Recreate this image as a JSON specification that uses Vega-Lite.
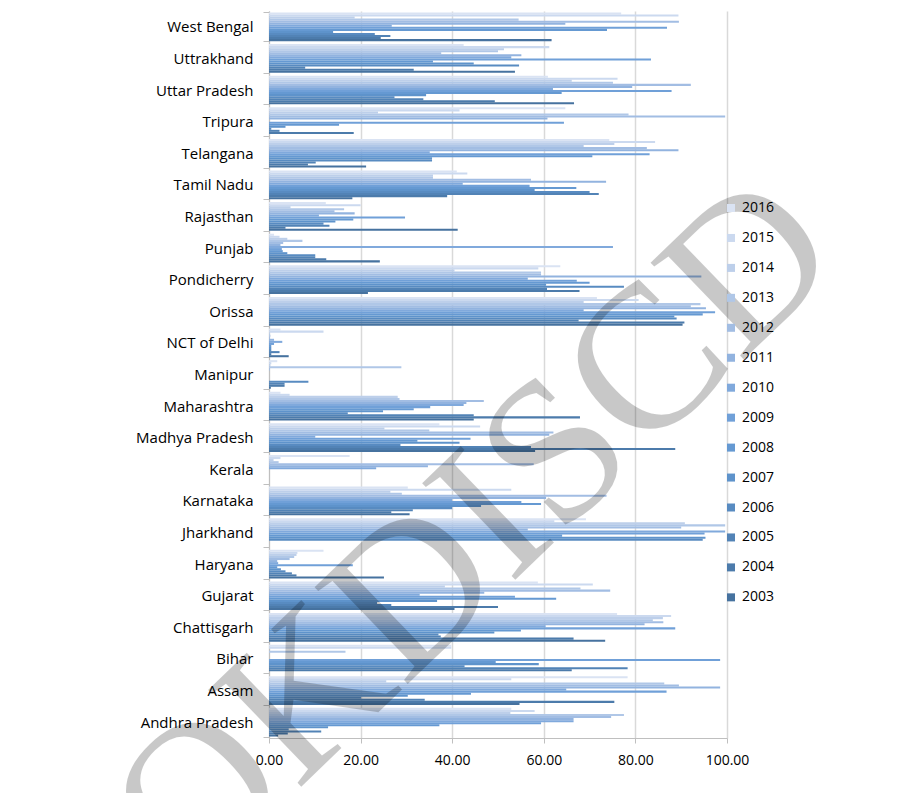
{
  "$schema": "https://vega.github.io/schema/vega-lite/v6.json",
  "autosize": {"type": "none"},
  "padding": {"left": 269, "top": 11, "right": 182, "bottom": 55},
  "width": 458,
  "height": 727,
  "background": "#ffffff",
  "config": {"font": "Open Sans", "view": {"stroke": null}},
  "datasets": {
    "wm": [{"label": "OKDISCD", "state": "Jharkhand", "value": 45}],
    "rows": [
{"state":"West Bengal","year":"2016","value":76.9},{"state":"West Bengal","year":"2015","value":89.4},{"state":"West Bengal","year":"2014","value":18.7},{"state":"West Bengal","year":"2013","value":54.5},{"state":"West Bengal","year":"2012","value":89.5},{"state":"West Bengal","year":"2011","value":64.7},{"state":"West Bengal","year":"2010","value":26.8},{"state":"West Bengal","year":"2009","value":86.9},{"state":"West Bengal","year":"2008","value":73.8},{"state":"West Bengal","year":"2007","value":14.0},{"state":"West Bengal","year":"2006","value":23.1},{"state":"West Bengal","year":"2005","value":26.5},{"state":"West Bengal","year":"2004","value":24.4},{"state":"West Bengal","year":"2003","value":61.7},
{"state":"Uttrakhand","year":"2016","value":42.5},{"state":"Uttrakhand","year":"2015","value":61.2},{"state":"Uttrakhand","year":"2014","value":51.3},{"state":"Uttrakhand","year":"2013","value":50.0},{"state":"Uttrakhand","year":"2012","value":37.6},{"state":"Uttrakhand","year":"2011","value":55.1},{"state":"Uttrakhand","year":"2010","value":52.9},{"state":"Uttrakhand","year":"2009","value":83.4},{"state":"Uttrakhand","year":"2008","value":35.8},{"state":"Uttrakhand","year":"2007","value":44.7},{"state":"Uttrakhand","year":"2006","value":54.6},{"state":"Uttrakhand","year":"2005","value":7.9},{"state":"Uttrakhand","year":"2004","value":31.6},{"state":"Uttrakhand","year":"2003","value":53.7},
{"state":"Uttar Pradesh","year":"2016","value":60.9},{"state":"Uttar Pradesh","year":"2015","value":76.1},{"state":"Uttar Pradesh","year":"2014","value":66.1},{"state":"Uttar Pradesh","year":"2013","value":75.1},{"state":"Uttar Pradesh","year":"2012","value":92.1},{"state":"Uttar Pradesh","year":"2011","value":79.3},{"state":"Uttar Pradesh","year":"2010","value":62.0},{"state":"Uttar Pradesh","year":"2009","value":87.9},{"state":"Uttar Pradesh","year":"2008","value":63.9},{"state":"Uttar Pradesh","year":"2007","value":34.3},{"state":"Uttar Pradesh","year":"2006","value":27.4},{"state":"Uttar Pradesh","year":"2005","value":33.7},{"state":"Uttar Pradesh","year":"2004","value":49.3},{"state":"Uttar Pradesh","year":"2003","value":66.6},
{"state":"Tripura","year":"2016","value":64.7},{"state":"Tripura","year":"2015","value":41.6},{"state":"Tripura","year":"2014","value":23.8},{"state":"Tripura","year":"2013","value":78.5},{"state":"Tripura","year":"2012","value":99.6},{"state":"Tripura","year":"2011","value":60.8},{"state":"Tripura","year":"2010","value":0},{"state":"Tripura","year":"2009","value":64.4},{"state":"Tripura","year":"2008","value":15.3},{"state":"Tripura","year":"2007","value":3.6},{"state":"Tripura","year":"2006","value":0.5},{"state":"Tripura","year":"2005","value":2.3},{"state":"Tripura","year":"2004","value":18.5},{"state":"Tripura","year":"2003","value":0},
{"state":"Telangana","year":"2016","value":74.3},{"state":"Telangana","year":"2015","value":84.3},{"state":"Telangana","year":"2014","value":75.4},{"state":"Telangana","year":"2013","value":68.7},{"state":"Telangana","year":"2012","value":82.5},{"state":"Telangana","year":"2011","value":89.4},{"state":"Telangana","year":"2010","value":35.1},{"state":"Telangana","year":"2009","value":83.1},{"state":"Telangana","year":"2008","value":70.6},{"state":"Telangana","year":"2007","value":35.6},{"state":"Telangana","year":"2006","value":35.6},{"state":"Telangana","year":"2005","value":10.2},{"state":"Telangana","year":"2004","value":8.5},{"state":"Telangana","year":"2003","value":21.2},
{"state":"Tamil Nadu","year":"2016","value":41.0},{"state":"Tamil Nadu","year":"2015","value":43.3},{"state":"Tamil Nadu","year":"2014","value":35.8},{"state":"Tamil Nadu","year":"2013","value":35.8},{"state":"Tamil Nadu","year":"2012","value":57.2},{"state":"Tamil Nadu","year":"2011","value":73.6},{"state":"Tamil Nadu","year":"2010","value":42.3},{"state":"Tamil Nadu","year":"2009","value":56.9},{"state":"Tamil Nadu","year":"2008","value":67.1},{"state":"Tamil Nadu","year":"2007","value":58.0},{"state":"Tamil Nadu","year":"2006","value":70.0},{"state":"Tamil Nadu","year":"2005","value":72.0},{"state":"Tamil Nadu","year":"2004","value":38.9},{"state":"Tamil Nadu","year":"2003","value":18.2},
{"state":"Rajasthan","year":"2016","value":12.4},{"state":"Rajasthan","year":"2015","value":20.0},{"state":"Rajasthan","year":"2014","value":4.7},{"state":"Rajasthan","year":"2013","value":16.4},{"state":"Rajasthan","year":"2012","value":14.3},{"state":"Rajasthan","year":"2011","value":18.7},{"state":"Rajasthan","year":"2010","value":10.9},{"state":"Rajasthan","year":"2009","value":29.7},{"state":"Rajasthan","year":"2008","value":18.4},{"state":"Rajasthan","year":"2007","value":14.5},{"state":"Rajasthan","year":"2006","value":11.9},{"state":"Rajasthan","year":"2005","value":13.2},{"state":"Rajasthan","year":"2004","value":3.6},{"state":"Rajasthan","year":"2003","value":41.2},
{"state":"Punjab","year":"2016","value":1.1},{"state":"Punjab","year":"2015","value":2.3},{"state":"Punjab","year":"2014","value":4.0},{"state":"Punjab","year":"2013","value":7.3},{"state":"Punjab","year":"2012","value":3.1},{"state":"Punjab","year":"2011","value":2.5},{"state":"Punjab","year":"2010","value":75.1},{"state":"Punjab","year":"2009","value":2.8},{"state":"Punjab","year":"2008","value":3.0},{"state":"Punjab","year":"2007","value":4.0},{"state":"Punjab","year":"2006","value":10.1},{"state":"Punjab","year":"2005","value":10.1},{"state":"Punjab","year":"2004","value":12.5},{"state":"Punjab","year":"2003","value":24.2},
{"state":"Pondicherry","year":"2016","value":63.6},{"state":"Pondicherry","year":"2015","value":58.8},{"state":"Pondicherry","year":"2014","value":40.5},{"state":"Pondicherry","year":"2013","value":59.4},{"state":"Pondicherry","year":"2012","value":59.4},{"state":"Pondicherry","year":"2011","value":94.4},{"state":"Pondicherry","year":"2010","value":56.5},{"state":"Pondicherry","year":"2009","value":67.2},{"state":"Pondicherry","year":"2008","value":70.0},{"state":"Pondicherry","year":"2007","value":60.5},{"state":"Pondicherry","year":"2006","value":77.5},{"state":"Pondicherry","year":"2005","value":60.7},{"state":"Pondicherry","year":"2004","value":67.8},{"state":"Pondicherry","year":"2003","value":21.6},
{"state":"Orissa","year":"2016","value":71.6},{"state":"Orissa","year":"2015","value":80.7},{"state":"Orissa","year":"2014","value":68.7},{"state":"Orissa","year":"2013","value":94.2},{"state":"Orissa","year":"2012","value":92.1},{"state":"Orissa","year":"2011","value":95.4},{"state":"Orissa","year":"2010","value":68.7},{"state":"Orissa","year":"2009","value":97.4},{"state":"Orissa","year":"2008","value":94.7},{"state":"Orissa","year":"2007","value":88.5},{"state":"Orissa","year":"2006","value":89.0},{"state":"Orissa","year":"2005","value":67.6},{"state":"Orissa","year":"2004","value":90.7},{"state":"Orissa","year":"2003","value":90.3},
{"state":"NCT of Delhi","year":"2016","value":2.5},{"state":"NCT of Delhi","year":"2015","value":11.9},{"state":"NCT of Delhi","year":"2014","value":0.2},{"state":"NCT of Delhi","year":"2013","value":0.3},{"state":"NCT of Delhi","year":"2012","value":0.2},{"state":"NCT of Delhi","year":"2011","value":1.1},{"state":"NCT of Delhi","year":"2010","value":2.9},{"state":"NCT of Delhi","year":"2009","value":1.1},{"state":"NCT of Delhi","year":"2008","value":0.5},{"state":"NCT of Delhi","year":"2007","value":0.5},{"state":"NCT of Delhi","year":"2006","value":0.5},{"state":"NCT of Delhi","year":"2005","value":2.3},{"state":"NCT of Delhi","year":"2004","value":0.5},{"state":"NCT of Delhi","year":"2003","value":4.3},
{"state":"Manipur","year":"2016","value":1.8},{"state":"Manipur","year":"2015","value":0.5},{"state":"Manipur","year":"2014","value":0.3},{"state":"Manipur","year":"2013","value":28.9},{"state":"Manipur","year":"2012","value":0.2},{"state":"Manipur","year":"2011","value":0},{"state":"Manipur","year":"2010","value":0},{"state":"Manipur","year":"2009","value":0},{"state":"Manipur","year":"2008","value":0},{"state":"Manipur","year":"2007","value":0},{"state":"Manipur","year":"2006","value":8.6},{"state":"Manipur","year":"2005","value":3.4},{"state":"Manipur","year":"2004","value":3.4},{"state":"Manipur","year":"2003","value":0.4},
{"state":"Maharashtra","year":"2016","value":2.5},{"state":"Maharashtra","year":"2015","value":4.5},{"state":"Maharashtra","year":"2014","value":28.1},{"state":"Maharashtra","year":"2013","value":28.5},{"state":"Maharashtra","year":"2012","value":46.9},{"state":"Maharashtra","year":"2011","value":43.1},{"state":"Maharashtra","year":"2010","value":42.5},{"state":"Maharashtra","year":"2009","value":35.2},{"state":"Maharashtra","year":"2008","value":31.6},{"state":"Maharashtra","year":"2007","value":24.9},{"state":"Maharashtra","year":"2006","value":17.2},{"state":"Maharashtra","year":"2005","value":44.7},{"state":"Maharashtra","year":"2004","value":67.9},{"state":"Maharashtra","year":"2003","value":44.7},
{"state":"Madhya Pradesh","year":"2016","value":37.2},{"state":"Madhya Pradesh","year":"2015","value":46.1},{"state":"Madhya Pradesh","year":"2014","value":25.2},{"state":"Madhya Pradesh","year":"2013","value":35.0},{"state":"Madhya Pradesh","year":"2012","value":62.1},{"state":"Madhya Pradesh","year":"2011","value":61.2},{"state":"Madhya Pradesh","year":"2010","value":10.1},{"state":"Madhya Pradesh","year":"2009","value":44.0},{"state":"Madhya Pradesh","year":"2008","value":32.4},{"state":"Madhya Pradesh","year":"2007","value":41.6},{"state":"Madhya Pradesh","year":"2006","value":28.7},{"state":"Madhya Pradesh","year":"2005","value":57.2},{"state":"Madhya Pradesh","year":"2004","value":88.7},{"state":"Madhya Pradesh","year":"2003","value":58.1},
{"state":"Kerala","year":"2016","value":17.6},{"state":"Kerala","year":"2015","value":2.5},{"state":"Kerala","year":"2014","value":1.0},{"state":"Kerala","year":"2013","value":2.1},{"state":"Kerala","year":"2012","value":57.8},{"state":"Kerala","year":"2011","value":34.7},{"state":"Kerala","year":"2010","value":23.4},{"state":"Kerala","year":"2009","value":0},{"state":"Kerala","year":"2008","value":0},{"state":"Kerala","year":"2007","value":0},{"state":"Kerala","year":"2006","value":0},{"state":"Kerala","year":"2005","value":0},{"state":"Kerala","year":"2004","value":0},{"state":"Kerala","year":"2003","value":0},
{"state":"Karnataka","year":"2016","value":30.3},{"state":"Karnataka","year":"2015","value":52.9},{"state":"Karnataka","year":"2014","value":26.5},{"state":"Karnataka","year":"2013","value":29.0},{"state":"Karnataka","year":"2012","value":73.7},{"state":"Karnataka","year":"2011","value":60.5},{"state":"Karnataka","year":"2010","value":40.0},{"state":"Karnataka","year":"2009","value":55.1},{"state":"Karnataka","year":"2008","value":59.4},{"state":"Karnataka","year":"2007","value":46.3},{"state":"Karnataka","year":"2006","value":40.0},{"state":"Karnataka","year":"2005","value":31.4},{"state":"Karnataka","year":"2004","value":26.7},{"state":"Karnataka","year":"2003","value":30.7},
{"state":"Jharkhand","year":"2016","value":69.2},{"state":"Jharkhand","year":"2015","value":62.3},{"state":"Jharkhand","year":"2014","value":90.8},{"state":"Jharkhand","year":"2013","value":99.6},{"state":"Jharkhand","year":"2012","value":90.0},{"state":"Jharkhand","year":"2011","value":56.5},{"state":"Jharkhand","year":"2010","value":99.6},{"state":"Jharkhand","year":"2009","value":95.1},{"state":"Jharkhand","year":"2008","value":64.0},{"state":"Jharkhand","year":"2007","value":95.3},{"state":"Jharkhand","year":"2006","value":94.7},{"state":"Jharkhand","year":"2005","value":0},{"state":"Jharkhand","year":"2004","value":0},{"state":"Jharkhand","year":"2003","value":0},
{"state":"Haryana","year":"2016","value":11.9},{"state":"Haryana","year":"2015","value":6.2},{"state":"Haryana","year":"2014","value":6.0},{"state":"Haryana","year":"2013","value":5.5},{"state":"Haryana","year":"2012","value":4.5},{"state":"Haryana","year":"2011","value":1.8},{"state":"Haryana","year":"2010","value":2.0},{"state":"Haryana","year":"2009","value":18.3},{"state":"Haryana","year":"2008","value":1.8},{"state":"Haryana","year":"2007","value":2.6},{"state":"Haryana","year":"2006","value":3.6},{"state":"Haryana","year":"2005","value":5.0},{"state":"Haryana","year":"2004","value":6.0},{"state":"Haryana","year":"2003","value":25.1},
{"state":"Gujarat","year":"2016","value":58.7},{"state":"Gujarat","year":"2015","value":70.7},{"state":"Gujarat","year":"2014","value":38.4},{"state":"Gujarat","year":"2013","value":68.0},{"state":"Gujarat","year":"2012","value":74.5},{"state":"Gujarat","year":"2011","value":47.0},{"state":"Gujarat","year":"2010","value":32.9},{"state":"Gujarat","year":"2009","value":53.7},{"state":"Gujarat","year":"2008","value":62.7},{"state":"Gujarat","year":"2007","value":36.7},{"state":"Gujarat","year":"2006","value":23.6},{"state":"Gujarat","year":"2005","value":26.7},{"state":"Gujarat","year":"2004","value":50.0},{"state":"Gujarat","year":"2003","value":40.5},
{"state":"Chattisgarh","year":"2016","value":76.0},{"state":"Chattisgarh","year":"2015","value":87.8},{"state":"Chattisgarh","year":"2014","value":86.0},{"state":"Chattisgarh","year":"2013","value":83.8},{"state":"Chattisgarh","year":"2012","value":86.1},{"state":"Chattisgarh","year":"2011","value":82.0},{"state":"Chattisgarh","year":"2010","value":60.4},{"state":"Chattisgarh","year":"2009","value":88.7},{"state":"Chattisgarh","year":"2008","value":55.0},{"state":"Chattisgarh","year":"2007","value":49.2},{"state":"Chattisgarh","year":"2006","value":37.0},{"state":"Chattisgarh","year":"2005","value":37.5},{"state":"Chattisgarh","year":"2004","value":66.5},{"state":"Chattisgarh","year":"2003","value":73.4},
{"state":"Bihar","year":"2016","value":39.8},{"state":"Bihar","year":"2015","value":39.8},{"state":"Bihar","year":"2014","value":0},{"state":"Bihar","year":"2013","value":16.7},{"state":"Bihar","year":"2012","value":0},{"state":"Bihar","year":"2011","value":0},{"state":"Bihar","year":"2010","value":0},{"state":"Bihar","year":"2009","value":98.5},{"state":"Bihar","year":"2008","value":49.5},{"state":"Bihar","year":"2007","value":58.9},{"state":"Bihar","year":"2006","value":42.7},{"state":"Bihar","year":"2005","value":78.3},{"state":"Bihar","year":"2004","value":66.1},{"state":"Bihar","year":"2003","value":0},
{"state":"Assam","year":"2016","value":78.3},{"state":"Assam","year":"2015","value":52.9},{"state":"Assam","year":"2014","value":25.6},{"state":"Assam","year":"2013","value":86.3},{"state":"Assam","year":"2012","value":89.5},{"state":"Assam","year":"2011","value":98.5},{"state":"Assam","year":"2010","value":64.9},{"state":"Assam","year":"2009","value":86.8},{"state":"Assam","year":"2008","value":44.1},{"state":"Assam","year":"2007","value":30.3},{"state":"Assam","year":"2006","value":20.1},{"state":"Assam","year":"2005","value":34.0},{"state":"Assam","year":"2004","value":75.4},{"state":"Assam","year":"2003","value":54.7},
{"state":"Andhra Pradesh","year":"2016","value":52.9},{"state":"Andhra Pradesh","year":"2015","value":58.0},{"state":"Andhra Pradesh","year":"2014","value":52.7},{"state":"Andhra Pradesh","year":"2013","value":77.5},{"state":"Andhra Pradesh","year":"2012","value":74.7},{"state":"Andhra Pradesh","year":"2011","value":66.5},{"state":"Andhra Pradesh","year":"2010","value":66.5},{"state":"Andhra Pradesh","year":"2009","value":59.4},{"state":"Andhra Pradesh","year":"2008","value":37.2},{"state":"Andhra Pradesh","year":"2007","value":12.9},{"state":"Andhra Pradesh","year":"2006","value":4.3},{"state":"Andhra Pradesh","year":"2005","value":11.4},{"state":"Andhra Pradesh","year":"2004","value":4.1},{"state":"Andhra Pradesh","year":"2003","value":2.0}
    ]
  },
  "layer": [
    {
      "data": {"name": "rows"},
      "mark": {"type": "bar"},
      "encoding": {
        "y": {
          "field": "state", "type": "nominal",
          "scale": {"domain": ["West Bengal","Uttrakhand","Uttar Pradesh","Tripura","Telangana","Tamil Nadu","Rajasthan","Punjab","Pondicherry","Orissa","NCT of Delhi","Manipur","Maharashtra","Madhya Pradesh","Kerala","Karnataka","Jharkhand","Haryana","Gujarat","Chattisgarh","Bihar","Assam","Andhra Pradesh"], "paddingInner": 0.092, "paddingOuter": 0.046},
          "axis": {"title": null, "tickBand": "extent", "tickSize": 6, "tickColor": "#bfbfbf", "domainColor": "#bfbfbf", "labelFontSize": 15, "labelFont": "Open Sans", "labelColor": "#000000", "labelPadding": 10, "grid": false}
        },
        "yOffset": {
          "field": "year", "type": "nominal",
          "scale": {"domain": ["2016","2015","2014","2013","2012","2011","2010","2009","2008","2007","2006","2005","2004","2003"], "paddingInner": 0, "paddingOuter": 0}
        },
        "x": {
          "field": "value", "type": "quantitative",
          "scale": {"domain": [0, 100], "nice": false},
          "axis": {"title": null, "values": [0, 20, 40, 60, 80, 100], "format": ".2f", "grid": true, "gridColor": "#d9d9d9", "gridWidth": 1.5, "domainColor": "#bfbfbf", "tickColor": "#bfbfbf", "tickSize": 5, "labelFontSize": 14, "labelFont": "Open Sans", "labelColor": "#000000", "labelPadding": 10, "labelFlush": false}
        },
        "color": {
          "field": "year", "type": "nominal",
          "scale": {"domain": ["2016","2015","2014","2013","2012","2011","2010","2009","2008","2007","2006","2005","2004","2003"],
                    "range": ["#dae3f3","#cbd9ef","#bdcfea","#b0c7e7","#a2bde3","#92b3df","#80a9dc","#70a0d8","#6599d2","#5e93cb","#588bc1","#5283b6","#4c7bab","#46729f"]},
          "legend": {"title": null, "orient": "none", "legendX": 455, "legendY": 190, "symbolType": "square", "symbolSize": 64, "symbolStrokeWidth": 0, "labelFontSize": 14, "labelFont": "Open Sans", "labelColor": "#000000", "labelOffset": 4, "rowPadding": 15.95, "padding": 0}
        }
      }
    },
    {
      "data": {"name": "wm"},
      "mark": {"type": "text", "font": "Liberation Serif", "fontSize": 205, "angle": -44, "align": "center", "baseline": "middle", "color": "#000000", "opacity": 0.21},
      "encoding": {
        "x": {"field": "value", "type": "quantitative"},
        "y": {"field": "state", "type": "nominal"},
        "text": {"field": "label"}
      }
    }
  ]
}
